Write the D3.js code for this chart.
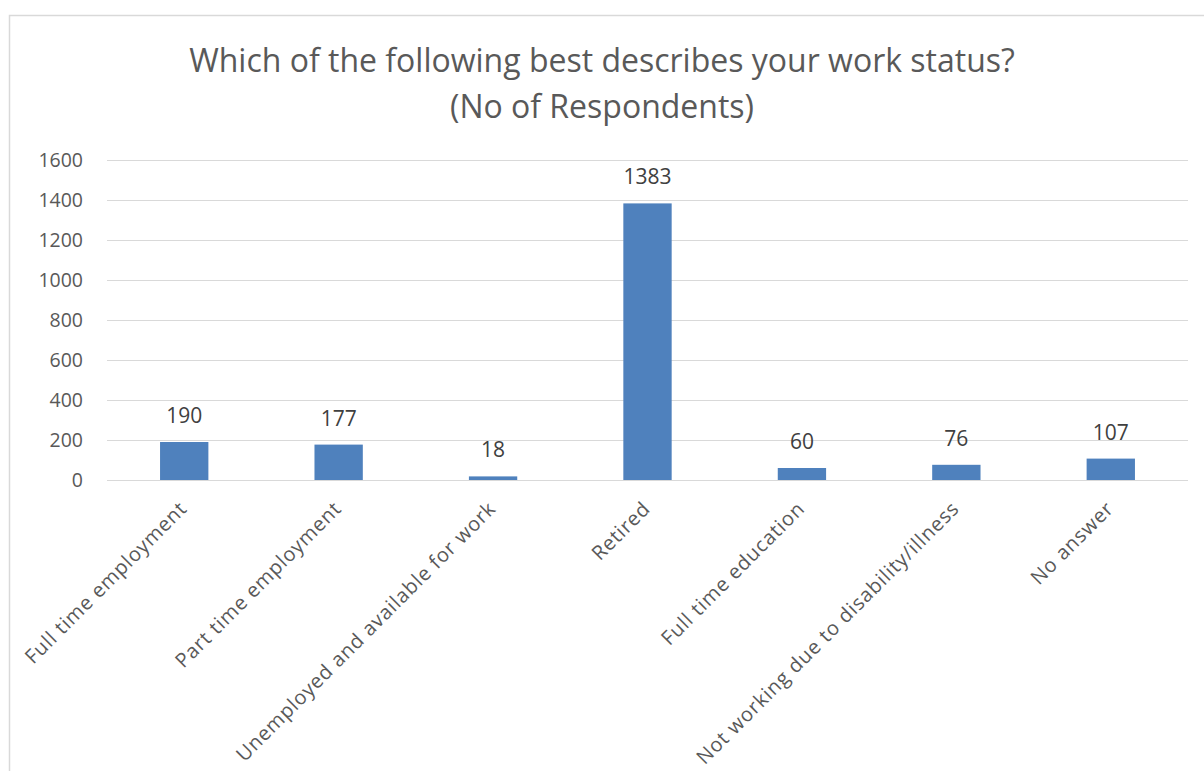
<!DOCTYPE html>
<html><head><meta charset="utf-8">
<script src="https://cdn.jsdelivr.net/npm/d3@7"></script>
<style>body{margin:0;background:#fff;overflow:hidden;} text{font-family:"Open Sans","Noto Sans",sans-serif;}</style>
</head><body>
<svg id="c" width="1204" height="771"></svg>
<script>
const categories = ["Full time employment","Part time employment","Unemployed and available for work","Retired","Full time education","Not working due to disability/illness","No answer"];
const values = [190,177,18,1383,60,76,107];
const yTicks = [0,200,400,600,800,1000,1200,1400,1600];
const titleLines = ["Which of the following best describes your work status?","(No of Respondents)"];

const svg = d3.select("#c");
svg.append("rect").attr("x",9.5).attr("y",15.5).attr("width",1250).attr("height",800).attr("fill","#fff").attr("stroke","#d9d9d9").attr("stroke-width",1.5);

const L=107,R=1188,T=160,B=480;
const x = d3.scaleBand().domain(categories).range([L,R]).paddingInner(0.687).paddingOuter(0.3435);
const y = d3.scaleLinear().domain([0,1600]).range([B,T]);

svg.append("g").selectAll("line").data(yTicks).join("line")
  .attr("x1",L).attr("x2",R).attr("y1",d=>Math.round(y(d))+0.5).attr("y2",d=>Math.round(y(d))+0.5)
  .attr("stroke","#d9d9d9").attr("stroke-width",1);

svg.append("g").selectAll("text").data(yTicks).join("text")
  .attr("x",83).attr("y",d=>y(d)+7).attr("text-anchor","end")
  .attr("font-size",19.5).attr("fill","#595959").text(d=>d);

svg.append("g").selectAll("rect").data(values).join("rect")
  .attr("x",(d,i)=>x(categories[i])).attr("width",x.bandwidth())
  .attr("y",d=>y(d)).attr("height",d=>B-y(d)).attr("fill","#4f81bd");

svg.append("g").selectAll("text").data(values).join("text")
  .attr("x",(d,i)=>x(categories[i])+x.bandwidth()/2).attr("y",d=>y(d)-19)
  .attr("text-anchor","middle").attr("font-size",21).attr("fill","#404040").text(d=>d);

svg.append("g").selectAll("text").data(categories).join("text")
  .attr("transform",d=>`translate(${x(d)+x.bandwidth()/2+4},${B+30}) rotate(-45)`)
  .attr("text-anchor","end").attr("font-size",20).attr("letter-spacing",0.8).attr("fill","#595959").text(d=>d);

svg.append("g").selectAll("text").data(titleLines).join("text")
  .attr("x",602).attr("y",(d,i)=>72+i*46).attr("text-anchor","middle")
  .attr("font-size",32).attr("fill","#595959").text(d=>d);
</script>
</body></html>
